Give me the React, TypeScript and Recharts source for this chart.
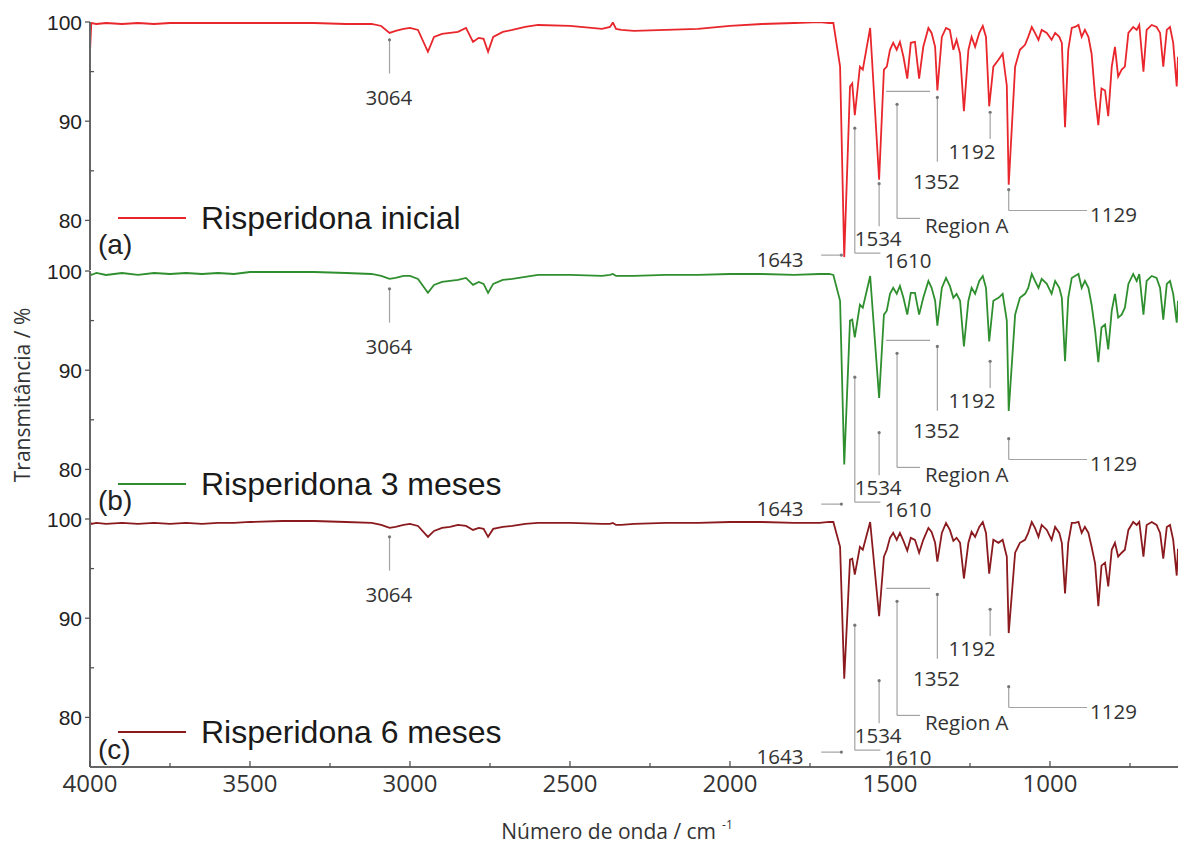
import React from 'react';
import { LineChart, Line, XAxis, YAxis, ReferenceLine, ReferenceDot, Legend } from 'recharts';

// wavenumber grid (cm-1) shared by the three spectra
const WAVENUMBERS = [
  4000, 3996, 3980, 3950, 3900, 3850, 3800, 3750, 3700, 3650, 3600, 3550, 3500, 3400, 3300, 3200,
  3120, 3090, 3064, 3045, 3020, 3000, 2975, 2944, 2925, 2900, 2875, 2850, 2825, 2803, 2785, 2770,
  2756, 2740, 2710, 2680, 2640, 2600, 2500, 2400, 2375, 2366, 2356, 2340, 2300, 2200, 2100, 2000,
  1900, 1800, 1720, 1690,
  1677, 1656, 1643, 1625, 1618, 1610, 1594, 1585, 1562, 1534,
  1519, 1510, 1500, 1490, 1479, 1469, 1458, 1446, 1435, 1422,
  1409, 1396, 1380, 1370, 1359, 1352, 1338, 1325, 1313, 1302,
  1292, 1281, 1269, 1255, 1245, 1234, 1221, 1210, 1200, 1190,
  1177, 1161, 1148, 1135, 1129, 1109, 1094, 1078, 1068, 1057,
  1047, 1036, 1026, 1010, 995, 984, 971, 963, 953, 943,
  932, 922, 911, 901, 891, 880, 870, 859, 849, 839,
  828, 818, 807, 797, 787, 776, 766, 755, 740, 729,
  721, 708, 698, 682, 667, 656, 646, 635, 625, 615,
  604, 600,
];

const T_INICIAL = [
  97.0, 99.9, 99.8, 99.9, 99.8, 99.9, 99.8, 99.9, 99.9, 99.9, 99.9, 99.9, 99.9, 99.9, 99.9, 99.8,
  99.8, 99.6, 98.9, 99.1, 99.3, 99.4, 99.2, 97.0, 98.5, 98.8, 98.9, 99.0, 99.4, 98.0, 98.4, 98.3,
  97.0, 98.5, 99.0, 99.2, 99.5, 99.7, 99.6, 99.3, 99.5, 99.95, 99.3, 99.2, 99.1, 99.2, 99.3, 99.6,
  99.8, 99.9, 100.0, 99.9,
  99.9, 95.5, 76.3, 93.5, 93.8, 90.6, 95.5, 95.2, 99.4, 84.1,
  95.2, 95.5, 97.2, 97.9, 97.2, 98.0, 96.5, 94.3, 97.9, 98.0,
  94.3, 97.5, 99.4, 98.9, 97.5, 93.1, 98.5, 99.4, 99.2, 97.2,
  98.2, 96.8, 91.0, 97.2, 98.5, 97.5, 98.9, 99.6, 98.5, 91.5,
  95.5, 96.2, 96.8, 93.6, 83.6, 95.5, 97.2, 97.7, 98.5, 99.5,
  98.9, 98.2, 99.2, 98.9, 98.2, 98.9, 98.5, 97.9, 89.4, 97.2,
  99.4, 99.5, 99.7, 98.5, 99.2, 98.5, 96.8, 92.5, 89.6, 93.3,
  93.1, 90.5, 95.5, 97.5, 94.5, 95.2, 95.5, 98.9, 99.5, 99.2,
  99.7, 95.0, 99.2, 99.7, 99.5, 98.9, 95.5, 99.2, 99.5, 97.9,
  93.5, 96.5,
];

const T_3MESES = [
  99.8, 99.6, 99.8, 99.6, 99.8, 99.6, 99.8, 99.7, 99.8, 99.7, 99.8, 99.7, 99.9, 99.9, 99.9, 99.8,
  99.7, 99.5, 99.2, 99.3, 99.5, 99.5, 99.2, 97.8, 98.6, 98.9, 99.0, 99.1, 99.3, 98.6, 98.9, 98.7,
  97.8, 98.7, 99.1, 99.2, 99.4, 99.6, 99.6, 99.5, 99.6, 99.7, 99.5, 99.5, 99.5, 99.6, 99.6, 99.7,
  99.7, 99.6, 99.7, 99.7,
  99.6, 97.0, 80.5, 95.0, 95.1, 93.3, 96.6, 96.3, 99.5, 87.2,
  95.6, 96.0, 97.7, 98.3, 97.7, 98.5, 97.3, 95.6, 97.8, 97.8,
  95.6, 97.3, 99.0, 98.3, 97.0, 94.5, 98.3, 99.3, 98.5, 97.3,
  97.7, 97.0, 92.4, 97.0, 98.3, 97.7, 99.0, 99.5, 98.3, 92.9,
  97.0, 97.3, 97.7, 95.0, 85.9, 95.6, 97.3, 97.7, 98.3, 99.7,
  99.0, 98.3, 99.2, 98.7, 97.7, 99.0, 98.3, 97.3, 90.9, 97.3,
  99.3, 99.5, 99.7, 98.3, 99.0, 98.3, 96.6, 94.0, 90.8, 94.3,
  94.6, 92.1, 96.0, 97.7, 95.3, 95.6, 96.3, 98.7, 99.7, 99.0,
  99.7, 95.6, 99.0, 99.5, 99.3, 98.3, 95.1, 98.7, 99.0, 97.7,
  94.8, 97.0,
];

const T_6MESES = [
  99.7, 99.5, 99.6, 99.5, 99.6, 99.5, 99.6, 99.5, 99.6, 99.5, 99.6, 99.6, 99.7, 99.8, 99.8, 99.7,
  99.6, 99.4, 99.1, 99.2, 99.4, 99.5, 99.3, 98.2, 98.8, 99.1, 99.2, 99.4, 99.3, 98.9, 99.1, 99.0,
  98.2, 99.0, 99.2, 99.3, 99.5, 99.6, 99.6, 99.5, 99.5, 99.6, 99.4, 99.4, 99.5, 99.6, 99.6, 99.7,
  99.7, 99.6, 99.6, 99.7,
  99.7, 97.2, 83.9, 95.9, 96.0, 94.4, 97.2, 96.9, 99.7, 90.2,
  96.2, 96.9, 98.1, 98.6, 97.9, 98.6, 97.8, 96.8, 98.1, 97.9,
  96.6, 97.9, 99.1, 98.7, 97.6, 95.7, 98.6, 99.6, 98.9, 97.8,
  98.1, 97.6, 94.0, 97.6, 98.7, 98.2, 99.2, 99.7, 98.6, 94.5,
  97.9, 97.6, 97.9, 96.2, 88.5, 96.6, 97.6, 97.9, 98.6, 99.7,
  99.1, 98.2, 99.4, 98.9, 97.9, 99.2, 98.6, 97.6, 92.5, 97.6,
  99.6, 99.6, 99.7, 98.6, 99.2, 98.6, 97.2, 95.5, 91.2, 95.3,
  95.6, 93.2, 96.9, 97.6, 96.2, 96.6, 96.9, 98.9, 99.7, 99.4,
  99.7, 96.2, 99.4, 99.7, 99.4, 98.6, 96.0, 99.2, 99.4, 97.9,
  94.3, 97.0,
];

const X_TICKS = [4000, 3750, 3500, 3250, 3000, 2750, 2500, 2250, 2000, 1750, 1500, 1250, 1000, 750];
const Y_TICKS = [80, 85, 90, 95, 100];

// guide lines of the peak assignments: [wn1, T1, wn2, T2]
const GUIDE_LINES = [
  [3064, 98.2, 3064, 94.8],
  [1715, 76.5, 1652, 76.5],
  [1610, 89.3, 1610, 76.7],
  [1610, 76.7, 1530, 76.7],
  [1534, 83.7, 1534, 79.4],
  [1512, 93.0, 1375, 93.0],
  [1478, 91.7, 1478, 80.2],
  [1478, 80.2, 1406, 80.2],
  [1352, 92.4, 1352, 85.9],
  [1187, 90.9, 1187, 88.2],
  [1129, 83.1, 1129, 81.0],
  [1129, 81.0, 884, 81.0],
];
const GUIDE_TIPS = [
  [3064, 98.2], [1652, 76.5], [1610, 89.3], [1534, 83.7], [1478, 91.7], [1352, 92.4], [1187, 90.9], [1129, 83.1],
];
const PEAK_LABELS = [
  { text: '3064', wn: 3066, t: 92.4, anchor: 'middle' },
  { text: '1643', wn: 1844, t: 76.0, anchor: 'middle' },
  { text: '1610', wn: 1444, t: 75.9, anchor: 'middle' },
  { text: '1534', wn: 1537, t: 78.2, anchor: 'middle' },
  { text: 'Region A', wn: 1391, t: 79.5, anchor: 'start' },
  { text: '1352', wn: 1355, t: 83.9, anchor: 'middle' },
  { text: '1192', wn: 1244, t: 86.9, anchor: 'middle' },
  { text: '1129', wn: 875, t: 80.6, anchor: 'start' },
];

const PANELS = [
  { id: 'a', name: 'Risperidona inicial', color: '#e8262b', values: T_INICIAL },
  { id: 'b', name: 'Risperidona 3 meses', color: '#2f8f2f', values: T_3MESES },
  { id: 'c', name: 'Risperidona 6 meses', color: '#8b1a1e', values: T_6MESES },
];

const FONT = '"Open Sans", sans-serif';
const PLOT_H = 248;

const YTick = (props: any) => {
  const { x, y, payload } = props;
  const major = payload.value % 10 === 0;
  return (
    <g>
      <line x1={major ? x - 5 : x} x2={major ? x : x + 4} y1={y} y2={y} stroke="#555" strokeWidth={1.3} />
      {major && (
        <text x={x - 8} y={y} dy="0.36em" textAnchor="end" fill="#222" fontSize={21} fontFamily='"Liberation Sans", Arial'>
          {payload.value}
        </text>
      )}
    </g>
  );
};

const makeXTick = (withLabel: boolean) => (props: any) => {
  const { x, y, payload } = props;
  const major = payload.value % 500 === 0;
  return (
    <g>
      <line x1={x} x2={x} y1={y} y2={y - (major ? 6 : 4)} stroke="#555" strokeWidth={1.3} />
      {withLabel && major && (
        <text x={x} y={y + 25} textAnchor="middle" fill="#333" fontSize={24} fontFamily={FONT}>
          {payload.value}
        </text>
      )}
    </g>
  );
};

const peakText = (text: string, anchor: string) => (props: any) => {
  const { x, y } = props.viewBox;
  return (
    <text x={x} y={y} dy="0.36em" textAnchor={anchor} fill="#333" fontSize={20.5} fontFamily={FONT}>
      {text}
    </text>
  );
};

const renderLegend = (props: any) => {
  const item = props.payload && props.payload[0];
  if (!item) return null;
  return (
    <div style={{ display: 'flex', alignItems: 'center', height: 34 }}>
      <svg width={68} height={4} style={{ display: 'block' }}>
        <line x1={0} y1={2} x2={68} y2={2} stroke={item.color} strokeWidth={2} />
      </svg>
      <span style={{ marginLeft: 15, fontFamily: '"Liberation Sans", Arial', fontSize: 32, color: '#1a1a1a', lineHeight: '34px', whiteSpace: 'nowrap' }}>
        {item.value}
      </span>
    </div>
  );
};

const xTitle = (props: any) => {
  const { x, y } = props.viewBox;
  return (
    <text x={x + 527} y={y + 72} textAnchor="middle" fill="#333" fontSize={21} fontFamily={FONT}>
      Número de onda / cm
      <tspan fontSize={12} dx={6} dy={-10}>-1</tspan>
    </text>
  );
};

const yTitle = (props: any) => {
  const { y, height } = props.viewBox;
  const cy = y + height / 2;
  return (
    <text x={22} y={cy} textAnchor="middle" dominantBaseline="central" fill="#333" fontSize={21} fontFamily={FONT} transform={`rotate(-90, 22, ${cy})`}>
      Transmitância / %
    </text>
  );
};

const Panel = ({ panel, index }: { panel: any; index: number }) => {
  const data = WAVENUMBERS.map((wn, i) => ({ wn, t: panel.values[i] }));
  const last = index === PANELS.length - 1;
  const tops = [2, 250.5, 499];
  const legendTops = [199, 216.5, 216];
  const xHeight = last ? 83 : 0;
  const bottomPad = last ? 0 : 12;
  return (
    <div style={{ position: 'absolute', left: 0, top: tops[index] }}>
      <LineChart
        width={1184}
        height={20 + PLOT_H + xHeight + bottomPad}
        data={data}
        margin={{ top: 20, right: 6, bottom: bottomPad, left: 0 }}
      >
        <XAxis
          type="number"
          dataKey="wn"
          domain={[600, 4000]}
          reversed
          allowDataOverflow
          ticks={X_TICKS}
          interval={0}
          height={xHeight}
          tickSize={0}
          tickMargin={0}
          tickLine={false}
          tick={makeXTick(last)}
          axisLine={{ stroke: '#666', strokeWidth: 2 }}
          label={last ? { content: xTitle } : undefined}
        />
        <YAxis
          type="number"
          domain={[75, 100]}
          allowDataOverflow
          ticks={Y_TICKS}
          interval={0}
          width={90}
          tickSize={0}
          tickMargin={0}
          tickLine={false}
          tick={<YTick />}
          axisLine={{ stroke: '#666', strokeWidth: 2 }}
          label={index === 1 ? { content: yTitle } : undefined}
        />
        <Legend
          layout="horizontal"
          verticalAlign="middle"
          align="center"
          content={renderLegend}
          wrapperStyle={{ left: 118, top: legendTops[index], width: 540 }}
        />
        {GUIDE_LINES.map((g, i) => (
          <ReferenceLine
            key={`g${i}`}
            segment={[{ x: g[0], y: g[1] }, { x: g[2], y: g[3] }]}
            stroke="#a3a3a3"
            strokeWidth={1.2}
            ifOverflow="visible"
          />
        ))}
        {GUIDE_TIPS.map((p, i) => (
          <ReferenceDot key={`d${i}`} x={p[0]} y={p[1]} r={1.6} fill="#777" stroke="none" ifOverflow="visible" />
        ))}
        {PEAK_LABELS.map((l) => (
          <ReferenceDot
            key={l.text}
            x={l.wn}
            y={l.t}
            r={0}
            fill="none"
            stroke="none"
            ifOverflow="visible"
            label={{ content: peakText(l.text, l.anchor) }}
          />
        ))}
        <Line
          type="linear"
          dataKey="t"
          name={panel.name}
          stroke={panel.color}
          strokeWidth={1.8}
          dot={false}
          activeDot={false}
          isAnimationActive={false}
        />
      </LineChart>
    </div>
  );
};

export default function App() {
  const letterTops = [229, 485, 734];
  return (
    <div style={{ position: 'absolute', left: 0, top: 0, width: 1184, height: 850, background: '#fff', overflow: 'hidden' }}>
      {PANELS.map((p, i) => (
        <Panel key={p.id} panel={p} index={i} />
      ))}
      {PANELS.map((p, i) => (
        <div
          key={`l${p.id}`}
          style={{ position: 'absolute', left: 98, top: letterTops[i], fontFamily: '"Liberation Sans", Arial', fontSize: 28, lineHeight: '32px', color: '#222' }}
        >
          ({p.id})
        </div>
      ))}
    </div>
  );
}
